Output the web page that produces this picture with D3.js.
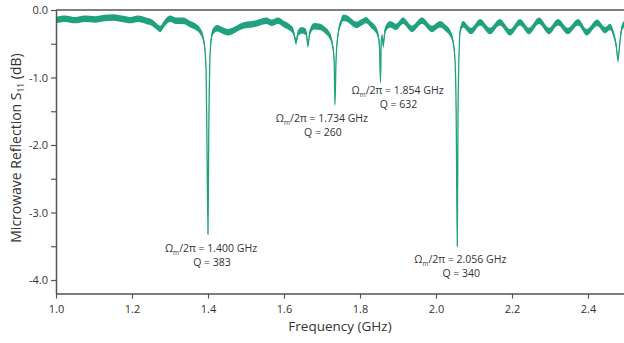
<!DOCTYPE html>
<html>
<head>
<meta charset="utf-8">
<script src="https://cdn.jsdelivr.net/npm/d3@7"></script>
<style>
  body { margin: 0; background: #fff; }
  .chart text { font-family: "Open Sans", sans-serif; fill: #333; }
</style>
</head>
<body>
<div class="chart" id="chart"></div>
<script>
// S11 trace (GHz, dB)
const freq = [
  1.000, 1.024, 1.050, 1.076, 1.103, 1.129, 1.150, 1.174, 1.195, 1.216,
  1.237, 1.253, 1.266, 1.274, 1.284, 1.300, 1.316, 1.334, 1.353, 1.368,
  1.379, 1.387, 1.392, 1.395, 1.397, 1.400, 1.402, 1.405, 1.408, 1.413,
  1.424, 1.437, 1.453, 1.468, 1.484, 1.503, 1.518, 1.537, 1.553, 1.568,
  1.584, 1.600, 1.613, 1.624, 1.632, 1.637, 1.647, 1.658, 1.663, 1.668,
  1.679, 1.695, 1.708, 1.718, 1.726, 1.732, 1.734, 1.737, 1.742, 1.750,
  1.755, 1.761, 1.774, 1.789, 1.805, 1.816, 1.829, 1.839, 1.847, 1.851,
  1.854, 1.856, 1.859, 1.861, 1.866, 1.879, 1.895, 1.913, 1.937, 1.963,
  1.989, 2.011, 2.026, 2.037, 2.045, 2.050, 2.053, 2.056, 2.058, 2.061,
  2.063, 2.071, 2.092, 2.116, 2.142, 2.168, 2.195, 2.221, 2.245, 2.271,
  2.297, 2.321, 2.347, 2.374, 2.397, 2.424, 2.445, 2.458, 2.468, 2.474,
  2.479, 2.484, 2.489, 2.495
];
const s11 = [
  -0.15, -0.13, -0.15, -0.13, -0.14, -0.12, -0.11, -0.13, -0.15, -0.13,
  -0.16, -0.19, -0.25, -0.28, -0.21, -0.13, -0.16, -0.16, -0.21, -0.25,
  -0.31, -0.41, -0.59, -0.90, -1.80, -3.32, -1.80, -0.75, -0.45, -0.32,
  -0.27, -0.30, -0.33, -0.30, -0.25, -0.22, -0.21, -0.18, -0.16, -0.19,
  -0.16, -0.21, -0.25, -0.31, -0.47, -0.34, -0.30, -0.33, -0.52, -0.33,
  -0.24, -0.25, -0.30, -0.36, -0.47, -0.74, -1.40, -0.74, -0.37, -0.18,
  -0.12, -0.12, -0.16, -0.22, -0.18, -0.15, -0.22, -0.27, -0.36, -0.52,
  -1.07, -0.44, -0.40, -0.53, -0.30, -0.21, -0.25, -0.16, -0.28, -0.16,
  -0.28, -0.21, -0.27, -0.34, -0.47, -0.74, -1.48, -3.50, -1.48, -0.59,
  -0.33, -0.21, -0.31, -0.18, -0.31, -0.18, -0.33, -0.18, -0.31, -0.16,
  -0.31, -0.18, -0.31, -0.18, -0.33, -0.19, -0.30, -0.25, -0.37, -0.52,
  -0.74, -0.47, -0.27, -0.21
];
// half-width of the measurement noise band (dB)
const noise = 0.048;

// resonances
const resFreq = [1.400, 1.734, 1.854, 2.056];
const resDepth = [-3.32, -1.40, -1.07, -3.50];
const resQ = [383, 260, 632, 340];

// tick labels
const xTicks = [1.0, 1.2, 1.4, 1.6, 1.8, 2.0, 2.2, 2.4];
const yTicks = [0, -1, -2, -3, -4];
const yMinor = [-0.5, -1.5, -2.5, -3.5];

const W = 624, H = 343;
const mLeft = 56, mTop = 10, mBottom = 293.5;

const svg = d3.select("#chart").append("svg")
  .attr("width", W).attr("height", H);

const x = d3.scaleLinear().domain([1.0, 2.5]).range([mLeft, mLeft + 570]);
const y = d3.scaleLinear().domain([0, -4.2]).range([mTop, mBottom]);

const pts = freq.map((f, i) => ({ f: f, v: s11[i] }));

svg.append("clipPath").attr("id", "clip")
  .append("rect").attr("x", mLeft).attr("y", mTop).attr("width", W - mLeft).attr("height", mBottom - mTop);

const plot = svg.append("g").attr("clip-path", "url(#clip)");

plot.append("path")
  .datum(pts)
  .attr("fill", "#21a17f")
  .attr("d", d3.area()
    .curve(d3.curveMonotoneX)
    .x(d => x(d.f))
    .y0(d => y(d.v - noise))
    .y1(d => y(d.v + noise)));

plot.append("path")
  .datum(pts)
  .attr("fill", "none")
  .attr("stroke", "#21a17f")
  .attr("stroke-width", 1.3)
  .attr("d", d3.line().curve(d3.curveMonotoneX).x(d => x(d.f)).y(d => y(d.v)));

// axes
const axisCol = "#555";
const gx = svg.append("g").attr("transform", `translate(0,${mBottom})`)
  .call(d3.axisBottom(x).tickValues(xTicks).tickFormat(d => d.toFixed(1)).tickSize(5).tickSizeOuter(0));
const gy = svg.append("g").attr("transform", `translate(${mLeft},0)`)
  .call(d3.axisLeft(y).tickValues(yTicks).tickFormat(d => d.toFixed(1)).tickSize(5).tickSizeOuter(0));
svg.append("g").attr("transform", `translate(${mLeft},0)`)
  .call(d3.axisLeft(y).tickValues(yMinor).tickFormat("").tickSize(5).tickSizeOuter(0))
  .select(".domain").remove();

svg.selectAll(".domain").attr("stroke", axisCol).attr("stroke-width", 1.5);
svg.selectAll(".tick line").attr("stroke", axisCol).attr("stroke-width", 1.2);
svg.selectAll(".tick text").attr("font-size", 11).style("font-family", "'Open Sans', sans-serif").attr("fill", "#333");
gx.selectAll(".tick text").attr("dy", "1.0em");
gy.selectAll(".tick text").attr("x", -8);

// top frame
svg.append("line")
  .attr("x1", mLeft).attr("x2", W).attr("y1", mTop).attr("y2", mTop)
  .attr("stroke", axisCol).attr("stroke-width", 1.5);

// axis titles
svg.append("text")
  .attr("x", 340).attr("y", 331)
  .attr("text-anchor", "middle").attr("font-size", 13.5)
  .text("Frequency (GHz)");

const yt = svg.append("text")
  .attr("transform", "translate(21,148) rotate(-90)")
  .attr("text-anchor", "middle").attr("font-size", 14);
yt.append("tspan").text("Microwave Reflection S");
yt.append("tspan").attr("font-size", 8.5).attr("dy", 3).text("11");
yt.append("tspan").attr("dy", -3).text(" (dB)");

// resonance labels (pixel offsets from the dip minimum)
const labelOff = [[3, 14], [-13, 13], [17, 8], [3, 13]];
resFreq.forEach((f, i) => {
  const cx = x(f) + labelOff[i][0];
  const cy = y(resDepth[i]) + labelOff[i][1];
  const t1 = svg.append("text")
    .attr("x", cx).attr("y", cy + 4)
    .attr("text-anchor", "middle").attr("font-size", 10.5);
  t1.append("tspan").text("Ω");
  t1.append("tspan").attr("font-size", 6.5).attr("dy", 3).text("m");
  t1.append("tspan").attr("dy", -3).text("/2π = " + f.toFixed(3) + " GHz");
  svg.append("text")
    .attr("x", cx + 1).attr("y", cy + 18)
    .attr("text-anchor", "middle").attr("font-size", 10.5)
    .text("Q = " + resQ[i]);
});
</script>
</body>
</html>
